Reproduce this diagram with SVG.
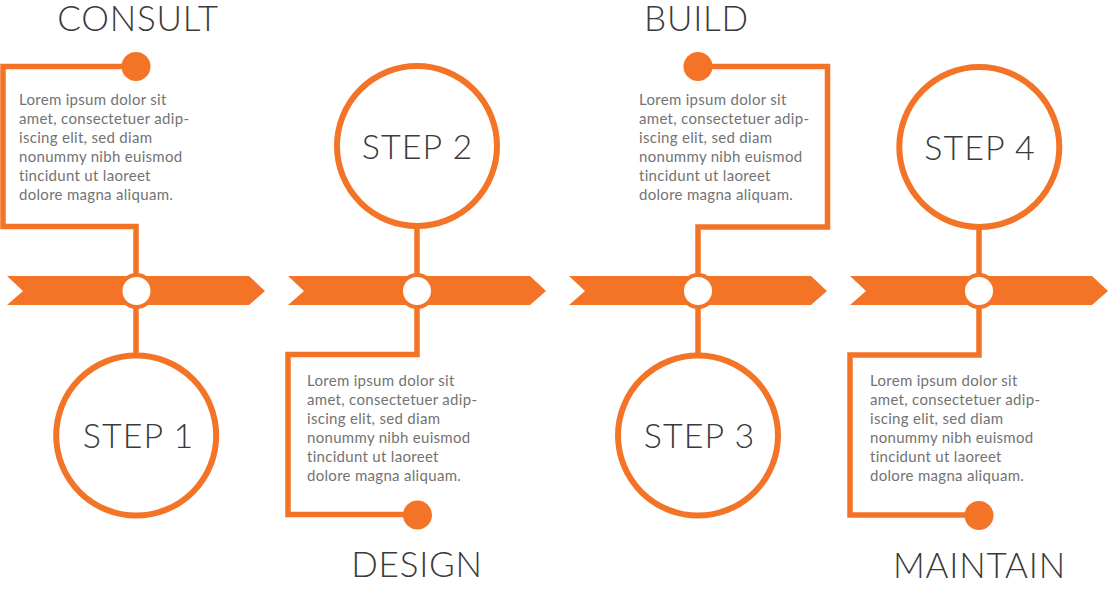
<svg xmlns="http://www.w3.org/2000/svg" width="1108" height="589" viewBox="0 0 1108 589">
<style>
.arrow{fill:#F47427}
.conn{fill:none;stroke:#F47427;stroke-width:5.5}
.ring{fill:#fff;stroke:#F47427;stroke-width:6}
.junc{fill:#fff;stroke:#F47427;stroke-width:4}
.dot{fill:#F47427}
.title{font-family:Lato,"Liberation Sans",sans-serif;font-weight:300;font-size:35px;letter-spacing:0.8px;fill:#3a3a3a;text-anchor:middle}
.label{font-family:Lato,"Liberation Sans",sans-serif;font-weight:300;font-size:34px;letter-spacing:1px;fill:#3a3a3a;text-anchor:middle}
.body{font-family:Lato,"Liberation Sans",sans-serif;font-size:15px;letter-spacing:0.3px;fill:#737373}
</style>
<rect width="1108" height="589" fill="#fff"/>
<g id="arrows">
<polygon class="arrow" points="7,276 249,276 265,291 249,305 7,305 23,291"/>
<polygon class="arrow" points="288,276 530,276 546,291 530,305 288,305 304,291"/>
<polygon class="arrow" points="569,276 811,276 827,291 811,305 569,305 585,291"/>
<polygon class="arrow" points="850,276 1092,276 1108,291 1092,305 850,305 866,291"/>
</g>
<g id="connectors">
<path class="conn" d="M136,66.5 H3 V226.5 H136 V353"/>
<path class="conn" d="M417,228 V354.5 H288 V514.5 H417"/>
<path class="conn" d="M698,66.5 H827.5 V227 H698 V353"/>
<path class="conn" d="M979,229 V355 H850 V515 H979"/>
</g>
<g id="step1">
<text class="title" x="138" y="31">CONSULT</text>
<circle class="dot" cx="136" cy="66.5" r="14.5"/>
<text class="body"><tspan x="19" y="104.5">Lorem ipsum dolor sit</tspan><tspan x="19" y="123.5">amet, consectetuer adip-</tspan><tspan x="19" y="142.5">iscing elit, sed diam</tspan><tspan x="19" y="161.5">nonummy nibh euismod</tspan><tspan x="19" y="180.5">tincidunt ut laoreet</tspan><tspan x="19" y="199.5">dolore magna aliquam.</tspan></text>
<circle class="junc" cx="136.5" cy="291" r="16"/>
<circle class="ring" cx="136.2" cy="435.5" r="80"/>
<text class="label" x="138.5" y="447.5">STEP 1</text>
</g>
<g id="step2">
<circle class="ring" cx="417" cy="146" r="80"/>
<text class="label" x="417.5" y="158.5">STEP 2</text>
<circle class="junc" cx="417" cy="291" r="16"/>
<text class="body"><tspan x="307" y="386">Lorem ipsum dolor sit</tspan><tspan x="307" y="405">amet, consectetuer adip-</tspan><tspan x="307" y="424">iscing elit, sed diam</tspan><tspan x="307" y="443">nonummy nibh euismod</tspan><tspan x="307" y="462">tincidunt ut laoreet</tspan><tspan x="307" y="481">dolore magna aliquam.</tspan></text>
<circle class="dot" cx="417.5" cy="515" r="14.5"/>
<text class="title" x="417" y="577">DESIGN</text>
</g>
<g id="step3">
<text class="title" x="696.5" y="31">BUILD</text>
<circle class="dot" cx="698" cy="66.5" r="14.5"/>
<text class="body"><tspan x="639" y="104.5">Lorem ipsum dolor sit</tspan><tspan x="639" y="123.5">amet, consectetuer adip-</tspan><tspan x="639" y="142.5">iscing elit, sed diam</tspan><tspan x="639" y="161.5">nonummy nibh euismod</tspan><tspan x="639" y="180.5">tincidunt ut laoreet</tspan><tspan x="639" y="199.5">dolore magna aliquam.</tspan></text>
<circle class="junc" cx="698" cy="291" r="16"/>
<circle class="ring" cx="698" cy="435.5" r="80"/>
<text class="label" x="699.5" y="447.5">STEP 3</text>
</g>
<g id="step4">
<circle class="ring" cx="979.3" cy="147" r="80"/>
<text class="label" x="980" y="159.5">STEP 4</text>
<circle class="junc" cx="979" cy="291" r="16"/>
<text class="body"><tspan x="870" y="386">Lorem ipsum dolor sit</tspan><tspan x="870" y="405">amet, consectetuer adip-</tspan><tspan x="870" y="424">iscing elit, sed diam</tspan><tspan x="870" y="443">nonummy nibh euismod</tspan><tspan x="870" y="462">tincidunt ut laoreet</tspan><tspan x="870" y="481">dolore magna aliquam.</tspan></text>
<circle class="dot" cx="979" cy="515.5" r="14.5"/>
<text class="title" x="979.5" y="578">MAINTAIN</text>
</g>
</svg>
